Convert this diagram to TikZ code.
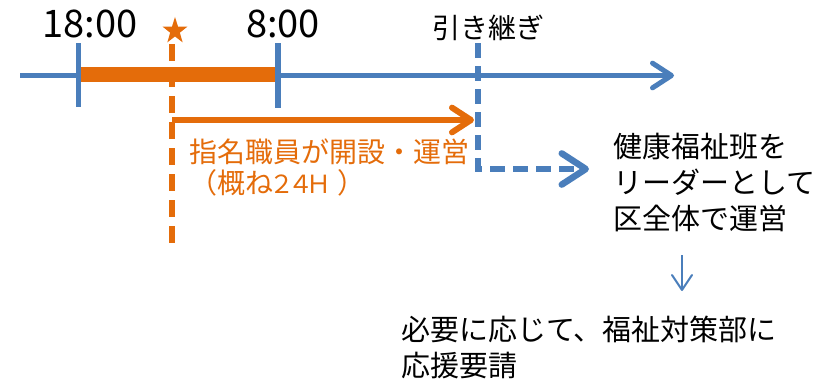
\documentclass[tikz,border=0pt]{standalone}
\usepackage{fontspec}
\setmainfont{Noto Sans CJK JP}
\usetikzlibrary{arrows.meta,shapes.geometric}
\definecolor{myblue}{RGB}{74,126,187}
\definecolor{myorange}{RGB}{228,108,10}
\newcommand{\nrw}[1]{\makebox[18.5pt]{\fontsize{25}{31}\selectfont #1}}
\begin{document}
\begin{tikzpicture}[x=1pt,y=-1pt,
  txt/.style={inner sep=0pt, font=\fontsize{29}{36}\selectfont, align=left},
  timelbl/.style={inner sep=0pt, font=\fontsize{38}{40}\selectfont},
  axisline/.style={myblue, line width=5pt},
  tick/.style={myblue, line width=5.5pt},
  barb/.style={-{Straight Barb[length=#1, width=#1*1.3, round]}},
]
\useasboundingbox (0,0) rectangle (829,380);

% coordinates
\coordinate (axisL) at (20,75.5);
\coordinate (axisR) at (674,75.5);
\coordinate (t1top) at (78.5,43);
\coordinate (t1bot) at (78.5,107);
\coordinate (t2top) at (278,43);
\coordinate (t2bot) at (278,108);
\coordinate (barL) at (78.5,74.5);
\coordinate (barR) at (278,74.5);
\coordinate (oTop) at (172,44);
\coordinate (oBot) at (172,246);
\coordinate (oArrL) at (172,120);
\coordinate (oArrR) at (474,120);
\coordinate (bTop) at (478,43);
\coordinate (bCorner) at (478,169);
\coordinate (bEnd) at (589,169);
\coordinate (dTop) at (682,255);
\coordinate (dBot) at (682,291);
\coordinate (starC) at (175,31);

% labels
\node[timelbl] (t18) at (90,24) {18:00};
\node[timelbl] (t8) at (283,24) {8:00};
\node[txt, font=\fontsize{28}{31}\selectfont] (hikitsugi) at (488,28) {引き継ぎ};
\node[txt, font=\fontsize{28}{31}\selectfont, text=myorange, anchor=west] (orangetxt) at (189,167) {指名職員が開設・運営\\（概ね\nrw{２}\nrw{４}\nrw{Ｈ}\hspace{9pt}）};
\node[txt, anchor=west] (kenko) at (613,182) {健康福祉班を\\リーダーとして\\区全体で運営};
\node[txt, anchor=west] (hitsuyo) at (401,347) {必要に応じて、福祉対策部に\\応援要請};

% star
\fill[myorange, shift={(starC)}, yscale=1.08] (-90:13) -- (-54:5.1) -- (-18:13) -- (18:5.1) -- (54:13) -- (90:5.1) -- (126:13) -- (162:5.1) -- (198:13) -- (234:5.1) -- cycle;

% axis
\draw[axisline, barb=19pt] (axisL) -- (axisR);
\draw[myorange, line width=15pt] (barL) -- (barR);
\draw[tick] (t1top) -- (t1bot);
\draw[tick] (t2top) -- (t2bot);

% orange dashed and arrow
\draw[myorange, line width=6pt, dash pattern=on 17pt off 9pt] (oTop) -- (oBot);
\draw[myorange, line width=6pt, barb=19pt] (oArrL) -- (oArrR);

% blue dashed handover
\draw[myblue, line width=6.5pt, dash pattern=on 15pt off 8pt, barb=24pt] (bTop) -- (bCorner) -- (bEnd);

% down arrow
\draw[myblue, line width=2pt, -{Straight Barb[length=15pt, width=20pt, round]}] (dTop) -- (dBot);
\end{tikzpicture}
\end{document}
